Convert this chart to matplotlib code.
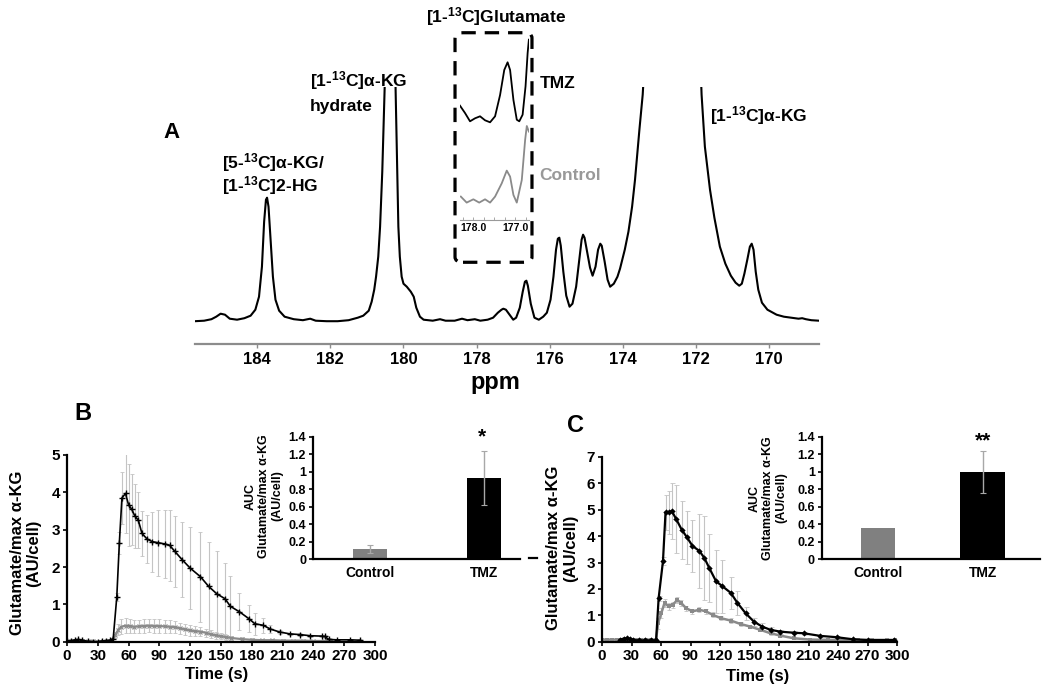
import matplotlib
matplotlib.use("Agg")
import matplotlib.pyplot as plt
from matplotlib.patches import FancyBboxPatch
from matplotlib.lines import Line2D

plt.rcParams['font.family'] = ['Liberation Sans', 'DejaVu Sans']
plt.rcParams['font.weight'] = 'bold'
plt.rcParams['mathtext.fontset'] = 'custom'
plt.rcParams['mathtext.rm'] = 'Liberation Sans:bold'
plt.rcParams['mathtext.bf'] = 'Liberation Sans:bold'
plt.rcParams['mathtext.default'] = 'rm'

# ---------------- Panel A data: 13C spectrum (ppm, intensity) ----------------
spec_ppm = [185.70, 185.45, 185.25, 185.12, 185.0, 184.88, 184.75, 184.55, 184.35, 184.18,
            184.05, 183.95, 183.87, 183.81, 183.76, 183.73, 183.69, 183.63, 183.57, 183.5,
            183.4, 183.25, 183.0, 182.75, 182.55, 182.4, 182.1, 181.8, 181.5, 181.25,
            181.1, 180.95, 180.87, 180.8, 180.75, 180.69, 180.64, 180.58, 180.51, 180.37,
            180.22, 180.17, 180.14, 180.1, 180.05, 180.0, 179.91, 179.8, 179.72, 179.65,
            179.55, 179.45, 179.2, 179.0, 178.85, 178.6, 178.4, 178.25, 178.05, 177.9, 177.7,
            177.55, 177.42, 177.32, 177.27, 177.2, 177.1, 177.0, 176.92, 176.82, 176.74,
            176.68, 176.64, 176.6, 176.52, 176.42, 176.3, 176.18, 176.08, 175.98, 175.9,
            175.83, 175.78, 175.74, 175.7, 175.63, 175.55, 175.46, 175.38, 175.28, 175.2,
            175.13, 175.09, 175.05, 174.98, 174.9, 174.83, 174.75, 174.68, 174.62, 174.58,
            174.5, 174.42, 174.35, 174.25, 174.15, 174.08, 173.95, 173.85, 173.75, 173.67,
            173.55, 173.46, 173.3, 172.9, 172.6, 172.3, 171.95, 171.85, 171.76, 171.62,
            171.5, 171.35, 171.2, 171.05, 170.92, 170.82, 170.75, 170.68, 170.6, 170.53,
            170.48, 170.43, 170.37, 170.3, 170.2, 170.05, 169.9, 169.8, 169.6, 169.4,
            169.2, 169.1, 169.0, 168.85, 168.64]
spec_int = [0.5, 1.0, 2.5, 5, 8, 7, 3, 2, 3.5, 6,
            12, 25, 55, 100, 122, 124, 115, 80, 45, 22,
            11, 5, 2.5, 1.5, 3, 1, 0.5, 0.5, 1.5, 4,
            6, 11, 20, 32, 45, 65, 95, 150, 240, 450,
            240, 150, 95, 65, 45, 38, 35, 30, 25, 14,
            5, 2, 1, 2.5, 1, 1, 3, 1.5, 2.5, 1, 2,
            4, 9, 12, 13, 12, 7, 2, 4, 14, 30,
            40, 41, 36, 18, 4, 2, 5, 9, 22, 45,
            72, 83, 84, 76, 50, 26, 15, 18, 35, 60,
            82, 87, 84, 70, 54, 46, 55, 72, 78, 76,
            60, 42, 35, 38, 45, 53, 72, 90, 115, 142,
            192, 227, 330, 700, 900, 700, 330, 227, 175, 132,
            104, 75, 58, 46, 39, 36, 38, 48, 62, 75,
            78, 72, 50, 32, 19, 12, 9, 7, 5, 4,
            3, 3.5, 2.5, 1.5, 1]
spec_ticks = [184, 182, 180, 178, 176, 174, 172, 170]

# inset: glutamate region
ins_ppm_tmz = [178.32, 178.2, 178.08, 177.96, 177.84, 177.72, 177.6, 177.48, 177.36, 177.26,
               177.18, 177.12, 177.04, 176.96, 176.9, 176.82, 176.75, 176.7, 176.67]
ins_int_tmz = [17.3, 10, 1.7, 4.7, 6.7, 2.7, 0.7, 6.7, 28, 53,
               60.7, 53, 23, 3.3, 1.7, 8.3, 36.7, 70, 83.3]
ins_ppm_ctl = [178.3, 178.16, 178.0, 177.86, 177.72, 177.6, 177.48, 177.32, 177.2, 177.12,
               177.04, 176.96, 176.84, 176.76, 176.72, 176.67]
ins_int_ctl = [6.7, 0.7, 4, 0.7, 4, 0.7, 6.7, 20, 32.7, 26.7,
               8.3, 0.7, 23.3, 63.3, 77.3, 71.7]
ins_ticks = [178.0, 177.0]
ins_ticklabels = ['178.0', '177.0']

# ---------------- Panel B data ----------------
tB_tmz = [0, 4, 8, 11, 15, 20, 25, 30, 34, 38, 42, 45, 48.5, 51, 53.5, 57, 60, 63, 66, 69.5,
          73, 78, 83, 89, 95, 100, 105, 112, 120, 130, 138, 146, 154, 159, 168, 177, 183, 191,
          198, 207, 217, 227, 237, 248, 251, 255, 263, 276, 285]
vB_tmz = [0.02, 0.03, 0.05, 0.06, 0.04, 0.01, 0.0, 0.0, 0.02, 0.03, 0.04, 0.08, 1.2, 2.65,
          3.85, 3.97, 3.66, 3.55, 3.37, 3.25, 2.9, 2.75, 2.68, 2.65, 2.62, 2.58, 2.42, 2.2,
          1.97, 1.74, 1.48, 1.28, 1.15, 0.95, 0.8, 0.62, 0.48, 0.44, 0.34, 0.26, 0.21, 0.19,
          0.16, 0.15, 0.14, 0.06, 0.05, 0.05, 0.04]
eB_tmz = [0.02] * 12 + [0.1, 0.3, 0.7, 1.05, 1.1, 0.95, 0.85, 0.75, 0.6, 0.65, 0.8, 0.88,
                        0.92, 0.95, 0.95, 1.0, 1.1, 1.2, 1.2, 1.15, 0.95, 0.8, 0.5, 0.35,
                        0.3, 0.2, 0.12, 0.06] + [0.03] * 9

tB_ctl = [0, 5, 10, 15, 20, 25, 30, 35, 40, 44, 47, 50, 53, 57, 61, 65, 70, 75, 80, 85, 90,
          95, 100, 105, 110, 115, 120, 125, 130, 135, 140, 145, 150, 155, 160, 170, 180, 190,
          200, 210, 220, 230, 240, 250, 257]
vB_ctl = [0.02, 0.02, 0.03, 0.02, 0.01, 0.01, 0.0, 0.01, 0.02, 0.05, 0.18, 0.32, 0.40, 0.43,
          0.42, 0.40, 0.41, 0.42, 0.43, 0.42, 0.42, 0.41, 0.40, 0.39, 0.36, 0.33, 0.30, 0.28,
          0.27, 0.24, 0.20, 0.17, 0.15, 0.12, 0.10, 0.07, 0.05, 0.04, 0.04, 0.03, 0.03, 0.03,
          0.02, 0.02, 0.02]
eB_ctl = [0.01] * 9 + [0.03, 0.08, 0.15, 0.2, 0.2, 0.2, 0.18, 0.18, 0.18, 0.18, 0.19, 0.19,
                       0.18, 0.17, 0.16, 0.15, 0.15, 0.14, 0.13, 0.12, 0.11, 0.1, 0.09, 0.08,
                       0.07, 0.06, 0.05, 0.04, 0.04, 0.03, 0.03, 0.02, 0.02, 0.02, 0.02, 0.02]

# ---------------- Panel C data ----------------
tC_tmz = [18, 22, 25, 28, 32, 38, 44, 50, 55, 57.6, 62, 64.6, 67.7, 71, 75.4, 81, 86.5, 92,
          99, 104, 109, 116, 122.5, 131, 137.7, 146, 154.5, 163, 171.4, 181.5, 195, 205, 222,
          238.7, 255.6, 270.7, 297]
vC_tmz = [0.07, 0.12, 0.13, 0.11, 0.06, 0.05, 0.05, 0.05, 0.05, 1.65, 3.05, 4.9, 4.9, 4.95,
          4.65, 4.25, 3.95, 3.63, 3.44, 3.18, 2.8, 2.29, 2.1, 1.85, 1.47, 1.08, 0.76, 0.57,
          0.45, 0.38, 0.34, 0.32, 0.22, 0.17, 0.09, 0.06, 0.06]
eC_tmz = [0.02] * 9 + [0.1, 0.15, 0.65, 0.8, 1.05, 1.3, 1.1, 1.0, 1.0, 1.4, 1.6, 1.3, 1.2,
                       1.0, 0.6, 0.45, 0.25, 0.15, 0.12, 0.1, 0.08, 0.06, 0.05, 0.04, 0.03,
                       0.03, 0.02, 0.02]

tC_ctl = [0, 5, 10, 15, 20, 25, 30, 35, 40, 45, 50, 55, 57, 60.3, 63.6, 67.7, 72, 76.5, 80.5,
          85.5, 92, 99, 105.7, 112.5, 121, 131, 141, 151, 161, 171.4, 181.5, 195, 211.8, 230,
          245, 260, 275, 290, 298]
vC_ctl = [0.08] * 12 + [0.7, 1.08, 1.47, 1.34, 1.4, 1.58, 1.47, 1.27, 1.15, 1.21, 1.15, 1.02,
                        0.89, 0.8, 0.67, 0.57, 0.45, 0.32, 0.23, 0.13, 0.08, 0.07, 0.07, 0.07,
                        0.07, 0.07, 0.07]
eC_ctl = [0.03] * 12 + [0.2, 0.2, 0.15, 0.12, 0.12, 0.12, 0.1, 0.1, 0.1, 0.1, 0.1, 0.1, 0.08,
                        0.08, 0.07, 0.06, 0.06, 0.05, 0.05, 0.04, 0.03, 0.03, 0.03, 0.03,
                        0.03, 0.03, 0.03]

time_ticks = [0, 30, 60, 90, 120, 150, 180, 210, 240, 270, 300]

# ---------------- AUC bar data ----------------
groups = ['Control', 'TMZ']
aucB = [0.12, 0.93]
aucB_err = [0.045, 0.31]
aucC = [0.36, 1.0]
aucC_err = [0.0, 0.24]
auc_ticks = [0, 0.2, 0.4, 0.6, 0.8, 1.0, 1.2, 1.4]
auc_ticklabels = ['0', '0.2', '0.4', '0.6', '0.8', '1', '1.2', '1.4']

# ---------------- figure ----------------
W, H = 1050, 694
fig = plt.figure(figsize=(W / 100, H / 100), dpi=100)


def box(l, t, r, b):
    return [l / W, 1 - b / H, (r - l) / W, (b - t) / H]


def ftext(x, y, s, **kw):
    return fig.text(x / W, 1 - y / H, s, **kw)


# ----- Panel A -----
axA = fig.add_axes(box(195, 87, 819, 344))
axA.plot(spec_ppm, spec_int, color='black', lw=1.5)
axA.set_xlim(185.70, 168.64)
axA.set_ylim(-22.3, 234.7)
for s in ['top', 'left', 'right']:
    axA.spines[s].set_visible(False)
axA.spines['bottom'].set_color('#8c8c8c')
axA.spines['bottom'].set_linewidth(1.6)
axA.set_yticks([])
axA.set_xticks(spec_ticks)
axA.set_xticklabels([str(t) for t in spec_ticks])
axA.tick_params(axis='x', direction='out', length=3, width=1, color='#8c8c8c',
                labelsize=12, pad=3)
axA.patch.set_alpha(0)

ftext(495, 382, 'ppm', fontsize=17, ha='center', va='center')
ftext(172, 133, 'A', fontsize=16, ha='center', va='center')
ftext(222, 163, r'[5-$^{13}$C]α-KG/', fontsize=12.5, ha='left', va='center')
ftext(222, 186, r'[1-$^{13}$C]2-HG', fontsize=12.5, ha='left', va='center')
ftext(310, 81, r'[1-$^{13}$C]α-KG', fontsize=12.5, ha='left', va='center')
ftext(310, 106, 'hydrate', fontsize=12.5, ha='left', va='center')
ftext(496, 17, r'[1-$^{13}$C]Glutamate', fontsize=12.5, ha='center', va='center')
ftext(710, 116, r'[1-$^{13}$C]α-KG', fontsize=12.5, ha='left', va='center')
ftext(540, 84, 'TMZ', fontsize=12.5, ha='left', va='center')
ftext(539, 175, 'Control', fontsize=12.5, ha='left', va='center', color='#999999')

# dashed inset box
bx = FancyBboxPatch(((455 + 8) / W, 1 - (265 - 8) / H), (532 - 455 - 16) / W,
                    (265 - 30 - 16) / H,
                    boxstyle='round,pad=0.0076', transform=fig.transFigure,
                    fill=False, edgecolor='black', lw=2.3, linestyle=(0, (4.5, 2.8)))
fig.patches.append(bx)

axI = fig.add_axes(box(460, 30, 529.3, 220))
tmz_offset = 97
ctl_offset = 16.7
axI.plot(ins_ppm_tmz, [v + tmz_offset for v in ins_int_tmz], color='black', lw=1.3)
axI.plot(ins_ppm_ctl, [v + ctl_offset for v in ins_int_ctl], color='#8a8a8a', lw=1.3)
axI.set_xlim(178.32, 176.66)
axI.set_ylim(0, 190)
for s in ['top', 'left', 'right']:
    axI.spines[s].set_visible(False)
axI.spines['bottom'].set_color('#9a9a9a')
axI.spines['bottom'].set_linewidth(0.8)
axI.set_yticks([])
axI.set_xticks(ins_ticks)
axI.set_xticklabels(ins_ticklabels)
axI.set_xticks([178.25, 178.0, 177.75, 177.5, 177.25, 177.0, 176.75], minor=True)
axI.tick_params(axis='x', which='both', direction='in', length=2, width=0.6,
                color='#9a9a9a', labelsize=7.5, pad=2)
axI.patch.set_alpha(0)


def style_time_axis(ax, ymax):
    ax.set_xlim(0, 300)
    ax.set_ylim(0, ymax)
    for s in ['top', 'right']:
        ax.spines[s].set_visible(False)
    for s in ['left', 'bottom']:
        ax.spines[s].set_linewidth(1.6)
        ax.spines[s].set_color('black')
    ax.set_xticks(time_ticks)
    ax.set_xticklabels([str(t) for t in time_ticks])
    ax.set_yticks(list(range(0, ymax + 1)))
    ax.tick_params(direction='out', length=3, width=1.2, labelsize=11, pad=2)
    ax.patch.set_alpha(0)


def style_auc_axis(ax):
    ax.set_ylim(0, 1.4)
    for s in ['top', 'right']:
        ax.spines[s].set_visible(False)
    for s in ['left', 'bottom']:
        ax.spines[s].set_linewidth(1.6)
        ax.spines[s].set_color('black')
    ax.set_yticks(auc_ticks)
    ax.set_yticklabels(auc_ticklabels)
    ax.set_xticks([0, 1])
    ax.set_xticklabels(groups)
    ax.tick_params(axis='y', direction='out', length=3, width=1.2, labelsize=9, pad=2)
    ax.tick_params(axis='x', length=0, labelsize=10, pad=5)
    ax.patch.set_alpha(0)


# ----- Panel B -----
axB = fig.add_axes(box(67, 455, 375, 641.7))
axB.errorbar(tB_tmz, vB_tmz, yerr=eB_tmz, fmt='none', ecolor='#c4c4c4', elinewidth=0.8,
             capsize=1.5, capthick=0.6, zorder=1)
axB.errorbar(tB_ctl, vB_ctl, yerr=eB_ctl, fmt='none', ecolor='#c4c4c4', elinewidth=0.8,
             capsize=1.5, capthick=0.6, zorder=1)
axB.plot(tB_ctl, vB_ctl, color='#8a8a8a', lw=1.6, marker='x', ms=2.5, mew=0.8, zorder=2)
axB.plot(tB_tmz, vB_tmz, color='black', lw=1.2, marker='+', ms=4, mew=1.0, zorder=3)
style_time_axis(axB, 5)
ftext(83, 413, 'B', fontsize=17, ha='center', va='center')
ftext(26, 553, 'Glutamate/max α-KG\n(AU/cell)', fontsize=12, rotation=90, ha='center',
      va='center', multialignment='center', linespacing=1.1)
ftext(217, 675, 'Time (s)', fontsize=12, ha='center', va='center')

axBi = fig.add_axes(box(313, 436.5, 520, 559.3))
axBi.set_xlim(-0.5, 1.32)
axBi.bar([0, 1], aucB, width=0.3, color=['#808080', 'black'], zorder=2)
axBi.errorbar([0, 1], aucB, yerr=aucB_err, fmt='none', ecolor='#a8a8a8', elinewidth=1.0,
              capsize=2, capthick=0.8, zorder=3)
style_auc_axis(axBi)
ftext(482, 437, '*', fontsize=15, ha='center', va='center')
ftext(264, 496, 'AUC\nGlutamate/max α-KG\n(AU/cell)', fontsize=9, rotation=90,
      ha='center', va='center', multialignment='center', linespacing=1.2)

# ----- Panel C -----
axC = fig.add_axes(box(602, 457, 897, 641.7))
axC.errorbar(tC_tmz, vC_tmz, yerr=eC_tmz, fmt='none', ecolor='#c4c4c4', elinewidth=0.8,
             capsize=1.8, capthick=0.6, zorder=1)
axC.errorbar(tC_ctl, vC_ctl, yerr=eC_ctl, fmt='none', ecolor='#c4c4c4', elinewidth=0.8,
             capsize=1.5, capthick=0.6, zorder=1)
axC.plot(tC_ctl, vC_ctl, color='#8a8a8a', lw=1.8, marker='s', ms=2.5, mew=0, zorder=2)
axC.plot(tC_tmz, vC_tmz, color='black', lw=1.6, marker='D', ms=3.2, mew=0, zorder=3)
style_time_axis(axC, 7)
ftext(575, 425, 'C', fontsize=17, ha='center', va='center')
ftext(562, 548, 'Glutamate/max α-KG\n(AU/cell)', fontsize=12, rotation=90, ha='center',
      va='center', multialignment='center', linespacing=1.15)
ftext(758, 677, 'Time (s)', fontsize=12, ha='center', va='center')
fig.add_artist(Line2D([529 / W, 537 / W], [1 - 558 / H, 1 - 558 / H], color='black', lw=1.6))

axCi = fig.add_axes(box(821.7, 436.5, 1040, 559.3))
axCi.set_xlim(-0.54, 1.55)
axCi.bar([0, 1], aucC, width=[0.33, 0.43], color=['#808080', 'black'], zorder=2)
axCi.errorbar([1], [aucC[1]], yerr=[aucC_err[1]], fmt='none', ecolor='#a8a8a8',
              elinewidth=1.0, capsize=2, capthick=0.8, zorder=3)
style_auc_axis(axCi)
ftext(983, 441, '**', fontsize=15, ha='center', va='center')
ftext(768, 498, 'AUC\nGlutamate/max α-KG\n(AU/cell)', fontsize=9, rotation=90,
      ha='center', va='center', multialignment='center', linespacing=1.2)

fig.savefig('out.png', dpi=100)
